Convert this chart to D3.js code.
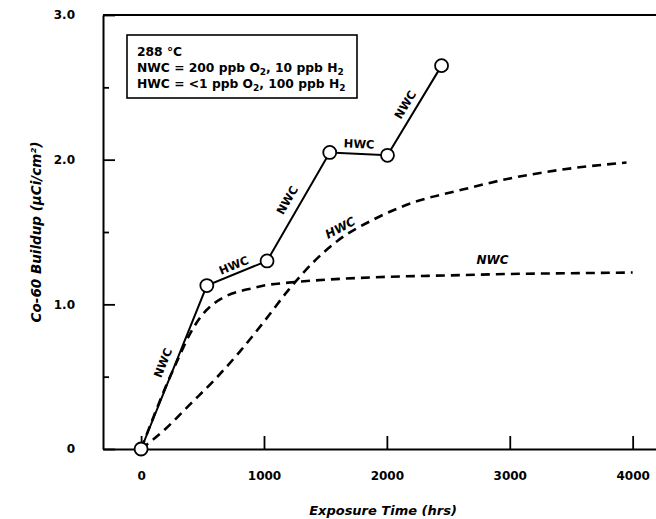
<!DOCTYPE html>
<html>
<head>
<meta charset="utf-8">
<script src="https://cdn.jsdelivr.net/npm/d3@7"></script>
<style>
  body { margin: 0; background: #fff; }
  svg { display: block; font-family: "DejaVu Sans", "Liberation Sans", Arial, sans-serif; }
</style>
</head>
<body>
<svg id="chart" width="656" height="519"></svg>
<script>
// measured data (hrs, uCi/cm2)
var measTime = [0, 535, 1025, 1535, 2005, 2445];
var measBuildup = [0, 1.13, 1.30, 2.05, 2.03, 2.65];
var segLabels = ["NWC", "HWC", "NWC", "HWC", "NWC"];

// model curves
var nwcTime = [0, 100, 200, 300, 400, 500, 600, 700, 800, 900, 1000, 1200, 1500, 2000, 2500, 3000, 3500, 4000];
var nwcBuildup = [0, 0.22, 0.43, 0.62, 0.80, 0.93, 1.01, 1.06, 1.09, 1.11, 1.13, 1.15, 1.17, 1.19, 1.20, 1.21, 1.215, 1.22];
var hwcTime = [0, 200, 400, 600, 800, 1000, 1200, 1400, 1600, 1900, 2200, 2600, 3000, 3500, 3950];
var hwcBuildup = [0, 0.14, 0.31, 0.48, 0.67, 0.88, 1.10, 1.29, 1.44, 1.59, 1.70, 1.79, 1.87, 1.94, 1.98];

var xTicks = [0, 1000, 2000, 3000, 4000];
var yTicks = [0, 1, 2, 3];
var yMinor = [0.5, 1.5, 2.5];
var yTickLabels = ["0", "1.0", "2.0", "3.0"];

var legendLines = ["288 °C", "NWC = 200 ppb O|2|, 10 ppb H|2|", "HWC = <1 ppb O|2|, 100 ppb H|2|"];

var svg = d3.select("#chart");

var x = d3.scaleLinear().domain([-310, 4190]).range([103, 656]);
var y = d3.scaleLinear().domain([0, 3]).range([449, 15]);

// axes
var xAxis = d3.axisBottom(x).tickValues(xTicks).tickFormat(d3.format("d"))
    .tickSizeInner(-13).tickSizeOuter(0).tickPadding(22);
svg.append("g").attr("transform", "translate(0," + y(0) + ")").call(xAxis);

var yAxis = d3.axisLeft(y).tickValues(yTicks).tickFormat(function (d, i) { return yTickLabels[i]; })
    .tickSizeInner(-12).tickSizeOuter(0).tickPadding(28);
svg.append("g").attr("transform", "translate(" + x.range()[0] + ",0)").call(yAxis);

var yAxisMinor = d3.axisLeft(y).tickValues(yMinor).tickFormat("").tickSizeInner(-6).tickSizeOuter(0);
svg.append("g").attr("transform", "translate(" + x.range()[0] + ",0)").call(yAxisMinor)
    .select(".domain").remove();

svg.selectAll(".domain").attr("stroke", "#000").attr("stroke-width", 2);
svg.selectAll(".tick line").attr("stroke", "#000").attr("stroke-width", 1.8);
svg.selectAll(".tick text").attr("fill", "#000").attr("font-size", 12).attr("font-weight", "bold")
    .attr("font-family", "'DejaVu Sans', sans-serif");

// top frame line
svg.append("line")
    .attr("x1", x.range()[0]).attr("x2", x.range()[1])
    .attr("y1", y(3)).attr("y2", y(3))
    .attr("stroke", "#000").attr("stroke-width", 2);

// axis titles
svg.append("text")
    .attr("x", 383).attr("y", 515)
    .attr("text-anchor", "middle")
    .attr("font-size", 13).attr("font-weight", "bold").attr("font-style", "italic")
    .text("Exposure Time (hrs)");

svg.append("text")
    .attr("transform", "translate(36,232) rotate(-90)")
    .attr("text-anchor", "middle")
    .attr("dy", "0.36em")
    .attr("font-size", 13.5).attr("font-weight", "bold").attr("font-style", "italic")
    .text("Co-60 Buildup (µCi/cm²)");

// dashed model curves
var line = d3.line().curve(d3.curveMonotoneX);

function dashed(times, vals) {
    svg.append("path")
        .attr("d", line(times.map(function (t, i) { return [x(t), y(vals[i])]; })))
        .attr("fill", "none")
        .attr("stroke", "#000")
        .attr("stroke-width", 2.6)
        .attr("stroke-dasharray", "9,6");
}
dashed(nwcTime, nwcBuildup);
dashed(hwcTime, hwcBuildup);

// measured solid line with circles
var pts = measTime.map(function (t, i) { return [x(t), y(measBuildup[i])]; });
svg.append("path")
    .attr("d", d3.line()(pts))
    .attr("fill", "none")
    .attr("stroke", "#000")
    .attr("stroke-width", 2);

svg.selectAll(".pt")
    .data(pts)
    .enter()
    .append("circle")
    .attr("class", "pt")
    .attr("cx", function (d) { return d[0]; })
    .attr("cy", function (d) { return d[1]; })
    .attr("r", 6.5)
    .attr("fill", "#fff")
    .attr("stroke", "#000")
    .attr("stroke-width", 1.8);

// segment labels, placed along each segment
var offs = [12, 8.5, 13, 10, 11];
segLabels.forEach(function (lab, i) {
    var a = pts[i], b = pts[i + 1];
    var dx = b[0] - a[0], dy = b[1] - a[1];
    var len = Math.sqrt(dx * dx + dy * dy);
    var nx = dy / len, ny = -dx / len;
    var cx = (a[0] + b[0]) / 2 + nx * offs[i];
    var cy = (a[1] + b[1]) / 2 + ny * offs[i];
    var ang = Math.atan2(dy, dx) * 180 / Math.PI;
    svg.append("text")
        .attr("transform", "translate(" + cx + "," + cy + ") rotate(" + ang + ")")
        .attr("text-anchor", "middle")
        .attr("dy", "0.36em")
        .attr("font-size", 11.5).attr("font-weight", "bold")
        .text(lab);
});

// curve labels
svg.append("text")
    .attr("transform", "translate(" + x(1620) + "," + y(1.53) + ") rotate(-28)")
    .attr("text-anchor", "middle").attr("dy", "0.36em")
    .attr("font-size", 12).attr("font-weight", "bold").attr("font-style", "italic")
    .text("HWC");
svg.append("text")
    .attr("transform", "translate(" + x(2860) + "," + y(1.31) + ")")
    .attr("text-anchor", "middle").attr("dy", "0.36em")
    .attr("font-size", 12).attr("font-weight", "bold").attr("font-style", "italic")
    .text("NWC");

// legend box
var lg = svg.append("g").attr("transform", "translate(127,35)");
lg.append("rect")
    .attr("width", 230).attr("height", 63)
    .attr("fill", "#fff").attr("stroke", "#000").attr("stroke-width", 1.6);

legendLines.forEach(function (s, i) {
    var t = lg.append("text")
        .attr("x", 10).attr("y", 21 + i * 16)
        .attr("font-size", 12.3).attr("font-weight", "bold");
    s.split("|").forEach(function (part, j) {
        var sp = t.append("tspan").text(part);
        if (j % 2 == 1) {
            sp.attr("font-size", 9).attr("dy", 3);
        } else if (j > 0) {
            sp.attr("dy", -3);
        }
    });
});
</script>
</body>
</html>
